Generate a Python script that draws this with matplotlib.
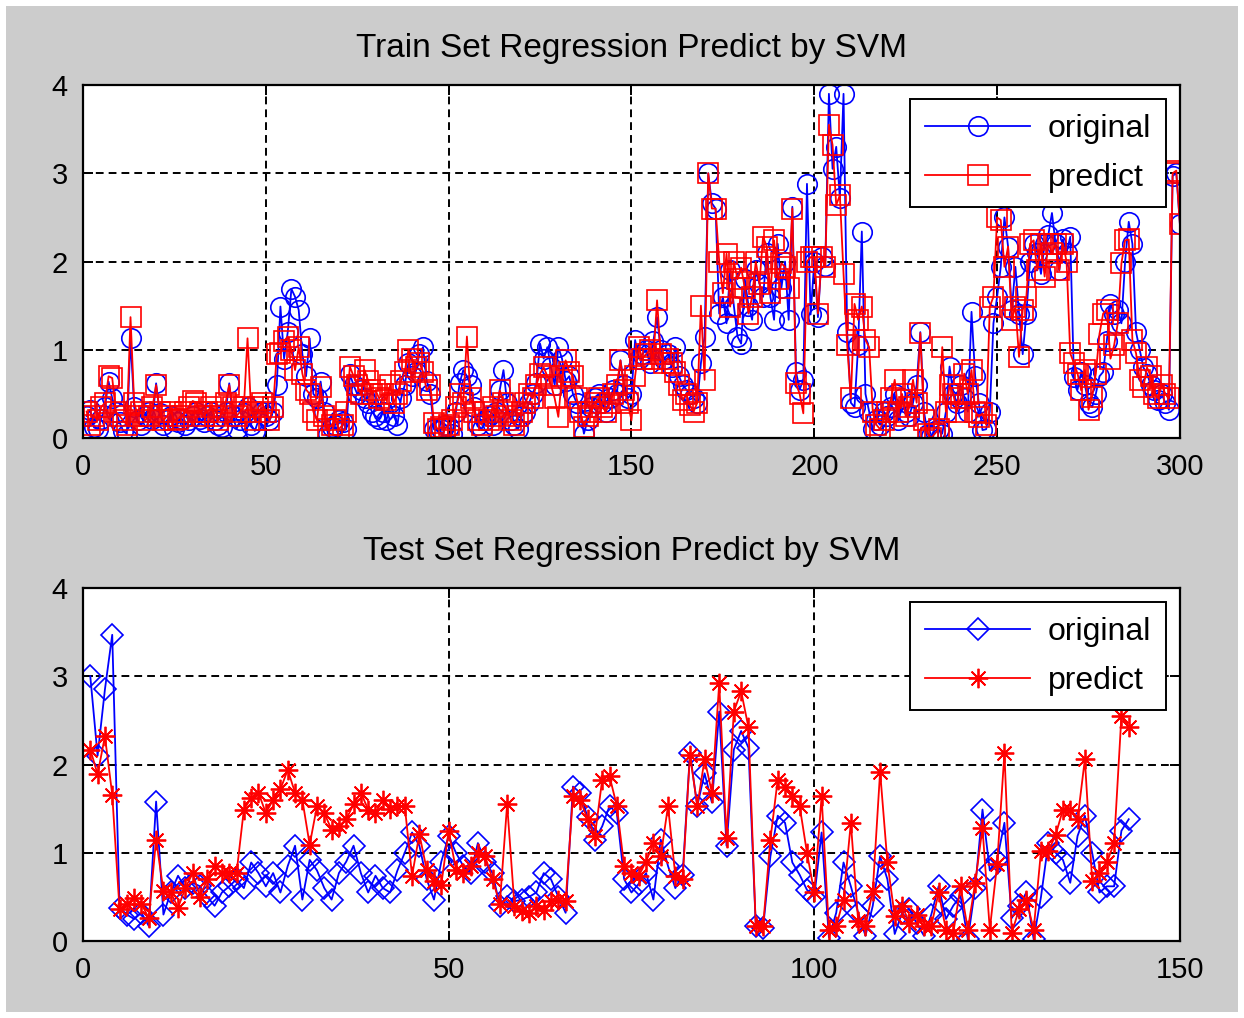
import matplotlib
matplotlib.use("Agg")
import matplotlib.pyplot as plt
from matplotlib.patches import Rectangle
import numpy as np

plt.rcParams['font.family'] = ['Liberation Sans', 'DejaVu Sans']

# ---- training set (300 samples) ----
train_original = [
    0.25, 0.32, 0.12, 0.10, 0.22, 0.35, 0.64, 0.45, 0.30, 0.18,
    0.08, 0.05, 1.13, 0.35, 0.20, 0.15, 0.25, 0.30, 0.22, 0.62,
    0.28, 0.15, 0.20, 0.25, 0.10, 0.18, 0.22, 0.15, 0.20, 0.25,
    0.30, 0.22, 0.18, 0.25, 0.30, 0.20, 0.15, 0.12, 0.30, 0.62,
    0.25, 0.10, 0.20, 0.28, 0.35, 0.15, 0.08, 0.20, 0.30, 0.25,
    0.20, 0.30, 0.60, 1.49, 0.90, 1.20, 1.69, 1.60, 1.45, 0.95,
    0.70, 1.13, 0.50, 0.45, 0.64, 0.30, 0.05, 0.12, 0.15, 0.20,
    0.18, 0.10, 0.72, 0.60, 0.50, 0.55, 0.45, 0.40, 0.30, 0.25,
    0.22, 0.30, 0.20, 0.40, 0.25, 0.15, 0.45, 0.60, 0.85, 0.70,
    0.75, 0.95, 1.03, 0.65, 0.50, 0.10, 0.08, 0.10, 0.15, 0.12,
    0.05, 0.30, 0.62, 0.77, 0.70, 0.60, 0.35, 0.15, 0.10, 0.20,
    0.25, 0.15, 0.30, 0.55, 0.77, 0.40, 0.20, 0.15, 0.10, 0.25,
    0.30, 0.40, 0.50, 0.62, 1.07, 0.90, 1.03, 0.80, 0.60, 1.03,
    0.90, 0.65, 0.70, 0.50, 0.40, 0.30, 0.05, 0.20, 0.35, 0.45,
    0.50, 0.40, 0.30, 0.45, 0.55, 0.50, 0.88, 0.60, 0.45, 0.50,
    1.11, 0.90, 0.95, 1.00, 0.85, 1.10, 1.37, 1.00, 0.90, 0.95,
    0.80, 1.03, 0.70, 0.60, 0.55, 0.50, 0.45, 0.40, 0.85, 1.15,
    3.00, 2.66, 2.60, 1.41, 1.60, 1.30, 1.90, 1.50, 1.15, 1.07,
    1.80, 1.50, 1.34, 1.90, 1.75, 1.60, 2.10, 1.60, 1.34, 2.20,
    1.70, 2.00, 1.34, 2.62, 0.75, 0.55, 0.66, 2.88, 1.40, 2.00,
    1.37, 2.05, 1.95, 3.90, 3.05, 3.30, 2.72, 3.90, 1.20, 0.40,
    0.35, 1.05, 2.34, 0.50, 0.30, 0.10, 0.20, 0.15, 0.30, 0.25,
    0.35, 0.50, 0.20, 0.45, 0.30, 0.25, 0.40, 0.60, 1.20, 0.30,
    0.05, 0.02, 0.08, 0.10, 0.05, 0.30, 0.81, 0.50, 0.40, 0.60,
    0.45, 0.30, 1.43, 0.70, 0.40, 0.09, 0.10, 0.30, 1.30, 1.60,
    1.94, 2.50, 2.17, 1.45, 1.94, 1.41, 0.95, 1.41, 2.00, 2.20,
    2.10, 1.86, 2.20, 2.30, 2.55, 2.20, 1.90, 2.25, 2.10, 2.28,
    0.69, 0.55, 0.75, 0.60, 0.40, 0.35, 0.50, 0.70, 0.75, 1.10,
    1.52, 1.41, 1.45, 1.30, 2.00, 2.45, 2.20, 1.20, 1.00, 0.80,
    0.73, 0.60, 0.55, 0.43, 0.50, 0.40, 0.32, 2.97, 3.00, 2.42,
]
train_predict = [
    0.30, 0.15, 0.25, 0.20, 0.35, 0.40, 0.70, 0.68, 0.30, 0.25,
    0.20, 0.15, 1.37, 0.40, 0.25, 0.30, 0.20, 0.25, 0.35, 0.60,
    0.30, 0.20, 0.25, 0.30, 0.20, 0.22, 0.25, 0.30, 0.35, 0.42,
    0.40, 0.30, 0.25, 0.30, 0.35, 0.25, 0.20, 0.30, 0.40, 0.60,
    0.35, 0.25, 0.30, 0.35, 1.13, 0.30, 0.20, 0.35, 0.40, 0.30,
    0.20, 0.35, 0.95, 0.96, 1.10, 1.15, 1.00, 0.77, 1.03, 0.73,
    0.55, 0.50, 0.30, 0.20, 0.58, 0.25, 0.10, 0.15, 0.20, 0.10,
    0.15, 0.30, 0.81, 0.70, 0.60, 0.50, 0.77, 0.65, 0.50, 0.54,
    0.45, 0.50, 0.43, 0.60, 0.40, 0.50, 0.65, 0.75, 1.00, 0.90,
    0.80, 0.85, 0.75, 0.54, 0.60, 0.17, 0.10, 0.12, 0.10, 0.15,
    0.20, 0.35, 0.50, 0.40, 1.15, 0.45, 0.30, 0.20, 0.15, 0.30,
    0.20, 0.35, 0.25, 0.54, 0.40, 0.30, 0.20, 0.15, 0.25, 0.30,
    0.40, 0.50, 0.45, 0.60, 0.73, 0.80, 0.70, 0.60, 0.45, 0.24,
    0.70, 0.88, 0.75, 0.70, 0.45, 0.30, 0.13, 0.25, 0.30, 0.40,
    0.45, 0.35, 0.30, 0.40, 0.50, 0.60, 0.88, 0.55, 0.40, 0.20,
    0.70, 1.03, 0.90, 0.95, 1.00, 0.90, 1.56, 0.95, 0.85, 0.90,
    0.85, 0.75, 0.60, 0.43, 0.50, 0.37, 0.30, 0.40, 1.50, 0.66,
    3.00, 2.60, 2.60, 2.00, 1.64, 2.09, 1.49, 2.00, 1.80, 1.93,
    1.70, 1.41, 1.60, 2.00, 1.75, 2.28, 2.17, 1.64, 2.24, 1.80,
    1.98, 1.94, 1.70, 2.60, 0.62, 0.50, 0.28, 2.00, 2.05, 2.05,
    1.41, 2.05, 1.94, 3.55, 3.32, 2.64, 2.75, 1.86, 1.05, 0.45,
    1.52, 1.34, 1.49, 1.11, 1.03, 0.30, 0.15, 0.10, 0.20, 0.30,
    0.45, 0.66, 0.30, 0.50, 0.25, 0.35, 0.66, 0.40, 1.19, 0.20,
    0.05, 0.00, 0.05, 0.10, 1.03, 0.30, 0.60, 0.50, 0.30, 0.45,
    0.73, 0.50, 0.77, 0.30, 0.24, 0.28, 0.15, 1.49, 1.60, 2.50,
    2.47, 1.94, 2.17, 1.34, 1.49, 0.92, 1.45, 1.60, 2.20, 2.24,
    1.90, 2.20, 1.83, 2.20, 2.10, 2.20, 1.90, 2.20, 2.00, 0.96,
    0.85, 0.73, 0.54, 0.77, 0.32, 0.47, 0.73, 1.18, 1.41, 1.45,
    0.90, 1.05, 1.30, 1.98, 2.24, 2.25, 1.11, 0.96, 0.66, 0.58,
    0.80, 0.70, 0.50, 0.45, 0.60, 0.50, 0.45, 3.00, 3.03, 2.42,
]

# ---- test set (143 samples) ----
test_original = [
    3.00, 2.10, 2.85, 3.47, 0.38, 0.30, 0.25, 0.32, 0.17, 1.58,
    0.30, 0.55, 0.74, 0.60, 0.66, 0.62, 0.50, 0.40, 0.55, 0.62,
    0.70, 0.60, 0.89, 0.77, 0.62, 0.77, 0.55, 0.85, 1.08, 0.47,
    0.92, 0.80, 0.60, 0.47, 0.77, 0.90, 1.08, 0.77, 0.55, 0.74,
    0.60, 0.55, 0.80, 1.00, 1.23, 1.08, 0.70, 0.47, 0.90, 1.19,
    1.00, 0.85, 0.77, 1.11, 0.90, 0.77, 0.40, 0.51, 0.45, 0.47,
    0.50, 0.55, 0.77, 0.70, 0.50, 0.32, 1.75, 1.68, 1.40, 1.15,
    1.30, 1.53, 1.45, 0.70, 0.55, 0.65, 0.77, 0.47, 1.15, 0.85,
    0.60, 0.75, 2.13, 1.53, 1.90, 1.57, 2.60, 1.08, 2.17, 2.38,
    2.19, 0.17, 0.15, 0.96, 1.42, 1.34, 0.89, 0.75, 0.58, 0.50,
    1.23, 0.04, 0.32, 0.89, 0.62, 0.32, 0.06, 0.40, 0.96, 0.70,
    0.08, 0.32, 0.36, 0.20, 0.06, 0.30, 0.62, 0.25, 0.40, 0.51,
    0.02, 0.60, 1.49, 0.80, 0.92, 1.34, 0.26, 0.40, 0.55, 0.02,
    0.50, 1.11, 1.00, 0.92, 0.66, 1.19, 1.42, 1.00, 0.55, 0.62,
    0.62, 1.25, 1.38,
]
test_predict = [
    2.17, 1.89, 2.32, 1.66, 0.36, 0.42, 0.49, 0.42, 0.26, 1.15,
    0.57, 0.55, 0.38, 0.60, 0.77, 0.50, 0.70, 0.85, 0.77, 0.77,
    0.77, 1.49, 1.62, 1.68, 1.45, 1.60, 1.72, 1.94, 1.68, 1.60,
    1.09, 1.53, 1.45, 1.26, 1.30, 1.38, 1.55, 1.68, 1.49, 1.45,
    1.60, 1.50, 1.53, 1.53, 0.74, 1.21, 0.81, 0.68, 0.64, 1.25,
    0.81, 0.77, 0.85, 1.00, 0.96, 0.70, 0.42, 1.55, 0.40, 0.34,
    0.32, 0.40, 0.35, 0.45, 0.47, 0.45, 1.64, 1.60, 1.38, 1.19,
    1.83, 1.87, 1.53, 0.85, 0.77, 0.74, 0.90, 1.11, 0.96, 1.53,
    0.74, 0.70, 2.11, 1.53, 2.06, 1.68, 2.92, 1.17, 2.60, 2.83,
    2.42, 0.17, 0.17, 1.15, 1.83, 1.74, 1.64, 1.53, 1.00, 0.55,
    1.64, 0.13, 0.17, 0.47, 1.34, 0.23, 0.17, 0.57, 1.92, 0.89,
    0.28, 0.40, 0.21, 0.30, 0.17, 0.17, 0.55, 0.13, 0.09, 0.62,
    0.13, 0.66, 1.28, 0.13, 0.87, 2.13, 0.09, 0.36, 0.47, 0.13,
    1.02, 1.02, 1.20, 1.49, 1.49, 1.38, 2.06, 0.68, 0.77, 0.89,
    1.11, 2.55, 2.42,
]

legend_labels = ["original", "predict"]
asterisk = (8, 2, 0)

fig = plt.figure(figsize=(12.44, 10.18), dpi=100, facecolor="white")
# grey MATLAB-style figure panel with a thin white margin
fig.patches.append(Rectangle((6 / 1244, 6 / 1018), 1232 / 1244, 1006 / 1018,
                             transform=fig.transFigure, facecolor="#cccccc",
                             edgecolor="none", zorder=-10))
ax1 = fig.add_axes([0.0667, 0.5697, 0.8818, 0.3468])
ax2 = fig.add_axes([0.0667, 0.0756, 0.8818, 0.3468])


def style_axis(ax, xmax, title):
    ax.set_xlim(0, xmax)
    ax.set_ylim(0, 4)
    ax.set_yticks([0, 1, 2, 3, 4])
    ax.grid(True, color="black", linestyle=(0, (4, 2.6)), linewidth=1.4)
    ax.tick_params(direction="in", top=True, right=True, length=7,
                   width=1.4, labelsize=21, pad=11)
    for sp in ax.spines.values():
        sp.set_linewidth(1.6)
    ax.set_title(title, fontsize=24, pad=20)
    leg = ax.legend(legend_labels, loc="upper right", fontsize=23,
                    fancybox=False, framealpha=1, edgecolor="black",
                    handlelength=3.3, handletextpad=0.55, borderaxespad=0.45,
                    labelspacing=0.6, borderpad=0.45)
    leg.get_frame().set_linewidth(1.4)


x_train = np.arange(1, len(train_original) + 1)
ax1.plot(x_train, train_original, color="blue", marker="o", markersize=14,
         markerfacecolor="none", markeredgewidth=1.2, linewidth=1.3)
ax1.plot(x_train, train_predict, color="red", marker="s", markersize=14,
         markerfacecolor="none", markeredgewidth=1.2, linewidth=1.3)
ax1.set_xticks(np.arange(0, 301, 50))
style_axis(ax1, 300, "Train Set Regression Predict by SVM")

x_test = np.arange(1, len(test_original) + 1)
ax2.plot(x_test, test_original, color="blue", marker="D", markersize=11,
         markerfacecolor="none", markeredgewidth=1.2, linewidth=1.3)
ax2.plot(x_test, test_predict, color="red", marker=asterisk, markersize=14,
         markeredgewidth=1.3, linewidth=1.3)
ax2.set_xticks(np.arange(0, 151, 50))
style_axis(ax2, 150, "Test Set Regression Predict by SVM")

fig.savefig("out.png", dpi=100, facecolor=fig.get_facecolor())
